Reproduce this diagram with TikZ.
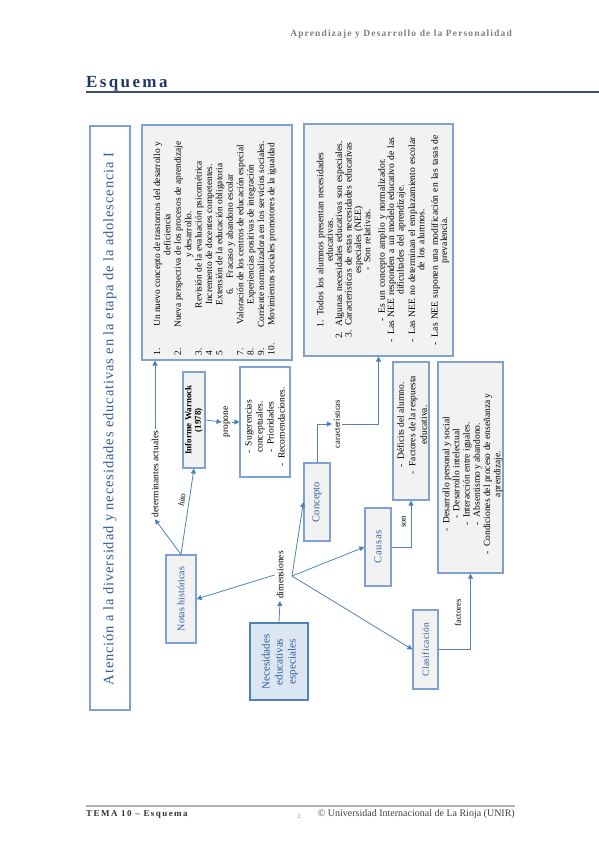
\documentclass[tikz,border=0pt]{standalone}
\usepackage{fontspec}
\setmainfont{Liberation Serif}
\usetikzlibrary{arrows.meta}
\definecolor{bord}{HTML}{7EA1D0}
\definecolor{lnk}{HTML}{4F81BD}
\definecolor{gfill}{HTML}{F2F2F2}
\definecolor{bfill}{HTML}{DCE6F2}
\definecolor{btxt}{HTML}{2F5C9E}
\definecolor{navy}{HTML}{1F3864}
\definecolor{hgray}{HTML}{7F7F7F}
\newcommand\lline[2]{\hbox to 225pt{\hbox to 16pt{#1\hss}\hss #2\hss}}
\begin{document}
\begin{tikzpicture}[x=1pt,y=-1pt,
  box/.style={draw=bord, line width=1.1pt, fill=gfill, inner sep=0pt},
  wbox/.style={box, fill=white},
  arr/.style={draw=lnk, line width=0.8pt, -{Triangle[length=5pt,width=5pt]}},
  lab/.style={rotate=90, font=\fontsize{9}{10}\selectfont, inner sep=2pt},
  btitle/.style={rotate=90, text=btxt, inner sep=1pt}]
\useasboundingbox (0,0) rectangle (599,848);
% header / footer
\node[anchor=base east, text=hgray, font=\fontsize{9.5}{11}\selectfont\bfseries\addfontfeatures{LetterSpace=12}, inner sep=0] (hdr) at (512,37) {Aprendizaje y Desarrollo de la Personalidad};
\node[anchor=base west, text=navy, font=\fontsize{17}{20}\selectfont\bfseries\addfontfeatures{LetterSpace=14}, inner sep=0] (esq) at (86,88) {Esquema};
\draw[draw=navy!70!gray, line width=1.6pt] (86,92) -- (599,92);
\draw[draw=gray!60, line width=1.4pt] (86,806) -- (515,806);
\node[anchor=base west, font=\fontsize{9}{10}\selectfont\bfseries\addfontfeatures{LetterSpace=16}, text=black!80, inner sep=0] (tema) at (86,816) {TEMA 10 -- Esquema};
\node[anchor=base, font=\fontsize{6}{7}\selectfont, text=hgray, inner sep=0] (pg) at (299,818) {2};
\node[anchor=base east, font=\fontsize{10}{11}\selectfont, text=black!75, inner sep=0] (unir) at (515,816) {© Universidad Internacional de La Rioja (UNIR)};

% title box
\node[wbox, minimum width=40pt, minimum height=584pt] (title) at (110,418) {};
\node[btitle, font=\fontsize{14.5}{16}\selectfont\addfontfeatures{LetterSpace=6}] (titletxt) at (110,419) {Atención a la diversidad y necesidades educativas en la etapa de la adolescencia I};

% box A
\node[box, minimum width=150pt, minimum height=235pt] (boxA) at (217,242.5) {};
\node[rotate=90, align=left, font=\fontsize{9.4}{10.4}\selectfont, inner sep=0] (txtA) at (215,242.5) {%
\lline{1.}{Un nuevo concepto de trastornos del desarrollo y}\\
\lline{}{deficiencia}\\
\lline{2.}{Nueva perspectiva de los procesos de aprendizaje}\\
\lline{}{y desarrollo.}\\
\lline{3.}{Revisión de la evaluación psicométrica}\\
\lline{4}{Incremento de docentes competentes.}\\
\lline{5}{Extensión de la educación obligatoria}\\
\lline{}{6.\quad Fracaso y abandono escolar}\\
\lline{7.}{Valoración de los centros de educación especial}\\
\lline{8.}{Experiencias positivas de integración}\\
\lline{9.}{Corriente normalizadora en los servicios sociales.}\\
\lline{10.}{Movimientos sociales promotores de la igualdad}};

% box B
\node[box, minimum width=149pt, minimum height=232pt] (boxB) at (378.5,240) {};
\node[rotate=90, text width=226pt, align=center, font=\fontsize{9.6}{9.4}\selectfont, inner sep=0] (txtB) at (383,240) {%
1.\enspace Todos los alumnos presentan necesidades\\
educativas.\\
2.\enspace Algunas necesidades educativas son especiales.\\
3.\enspace Características de estas necesidades educativas\\
especiales (NEE)\\
-\enspace Son relativas.\\[5pt]
-\enspace Es un concepto amplio y normalizador.\\
-\enspace Las NEE responden a un modelo educativo de las\\
dificultades del aprendizaje.\\[2pt]
-\enspace Las NEE no determinan el emplazamiento escolar\\
de los alumnos.\\[4pt]
-\enspace Las NEE suponen una modificación en las tasas de\\
prevalencia.};

% Warnock
\node[box, minimum width=22pt, minimum height=96pt] (warnock) at (194,420) {};
\node[rotate=90, align=center, font=\fontsize{9}{9.5}\selectfont\bfseries, inner sep=0] (warnocktxt) at (194,420) {Informe Warnock\\(1978)};

% Sugerencias
\node[wbox, minimum width=50pt, minimum height=110pt] (sug) at (265,422) {};
\node[rotate=90, align=center, font=\fontsize{9.5}{11}\selectfont, inner sep=0] (sugtxt) at (265,427) {-\enspace Sugerencias\\conceptuales.\\-\enspace Prioridades\\-\enspace Recomendaciones.};

% Notas
\node[box, minimum width=30pt, minimum height=88pt] (notas) at (181,599) {};
\node[btitle, font=\fontsize{10}{11}\selectfont] (notastxt) at (181,599) {Notas históricas};

% NEE
\node[box, fill=bfill, draw=lnk, line width=1.4pt, minimum width=58pt, minimum height=77pt] (nee) at (279,661.5) {};
\node[btitle, align=center, font=\fontsize{11}{13}\selectfont] (neetxt) at (280,662) {Necesidades\\educativas\\especiales};

% Concepto, Causas, Clasificacion
\node[box, minimum width=26pt, minimum height=78pt] (concepto) at (317,502) {};
\node[btitle, font=\fontsize{10.5}{12}\selectfont] (conceptotxt) at (317,502) {Concepto};
\node[box, minimum width=26pt, minimum height=78pt] (causas) at (378,547) {};
\node[btitle, font=\fontsize{10.5}{12}\selectfont\addfontfeatures{LetterSpace=6}] (causastxt) at (378,547) {Causas};
\node[box, minimum width=25pt, minimum height=79pt] (clasif) at (425.5,649.5) {};
\node[btitle, font=\fontsize{9.5}{11}\selectfont\addfontfeatures{LetterSpace=3}] (clasiftxt) at (425.5,649.5) {Clasificación};

% Deficits
\node[box, minimum width=36pt, minimum height=138pt] (def) at (411,431) {};
\node[rotate=90, align=center, font=\fontsize{9.5}{11.5}\selectfont, inner sep=0] (deftxt) at (412,425) {-\enspace Déficits del alumno.\\-\enspace Factores de la respuesta\\educativa.};

% Factores list
\node[box, minimum width=65pt, minimum height=211pt] (fact) at (470.5,467.5) {};
\node[rotate=90, align=center, font=\fontsize{9.5}{10.2}\selectfont, inner sep=0] (facttxt) at (472.5,474) {-\enspace Desarrollo personal y social\\-\enspace Desarrollo intelectual\\-\enspace Interacción entre iguales.\\-\enspace Absentismo y abandono.\\-\enspace Condiciones del proceso de enseñanza y\\aprendizaje.};

% labels
\node[lab, font=\fontsize{9.5}{10}\selectfont] (det) at (155,474) {determinantes actuales};
\node[rotate=81, font=\itshape\fontsize{8.5}{10}\selectfont, inner sep=1pt] (hito) at (182,500) {hito};
\node[lab, font=\fontsize{9.5}{10}\selectfont] (propone) at (227,422) {propone};
\node[lab, font=\fontsize{8.5}{10}\selectfont] (car) at (337,424) {características};
\node[lab, font=\fontsize{9.5}{10}\selectfont] (dim) at (280,575) {dimensiones};
\node[lab, font=\fontsize{8.5}{10}\selectfont] (son) at (404,522) {son};
\node[lab, font=\fontsize{8.5}{10}\selectfont] (factlab) at (458,613) {factores};
\coordinate (hub) at (292,576);

% connectors
\draw[arr] (notas.north) -- (det.west);
\draw[arr] (det.east) -- (det.east |- boxA.south);
\draw[arr] (notas.north) -- (warnock.south);
\draw[arr] (warnock.east) -- (propone.north);
\draw[arr] (propone.south) -- (sug.west);
\draw[arr] (nee.north) -- (dim.west);
\draw[arr] (dim.north) -- (notas.east);
\draw[arr] (hub) -- (concepto.west);
\draw[arr] (hub) -- (causas.west);
\draw[arr] (hub) -- (clasif.west);
\draw[arr] (concepto.north) |- (car.north);
\draw[arr] (car.south) -| (boxB.south);
\draw[arr] (causas.east) -| (def.south);
\draw[arr] (clasif.east) -| (fact.south);
\end{tikzpicture}
\end{document}
